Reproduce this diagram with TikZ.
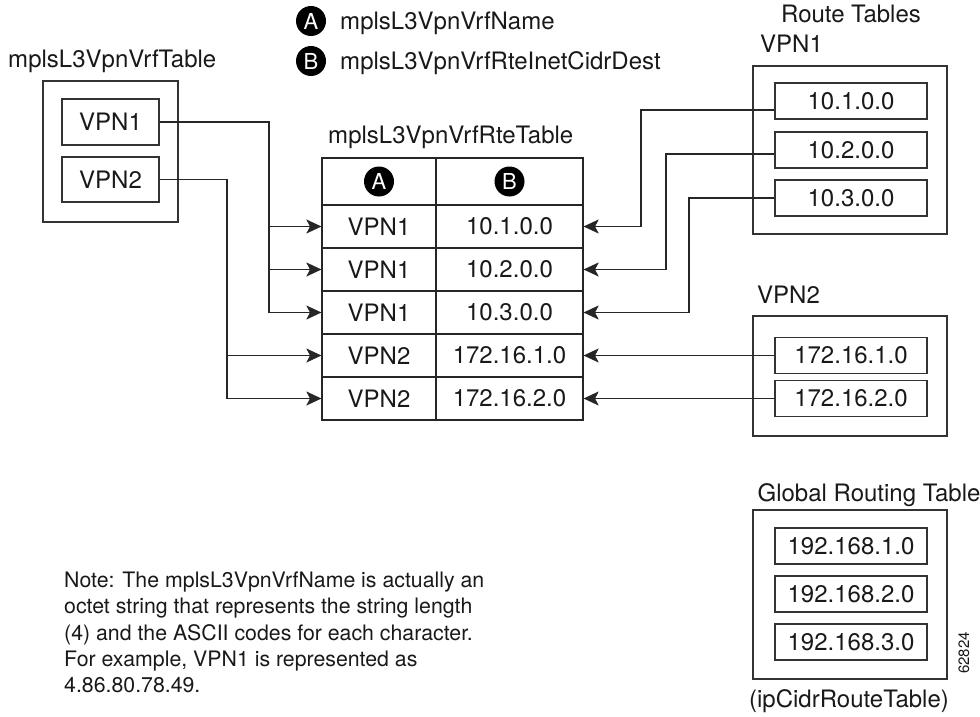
\documentclass[tikz,border=0pt]{standalone}
\usepackage{fontspec}
\setmainfont{TeX Gyre Heros}
\usetikzlibrary{arrows.meta}
\begin{document}
\begin{tikzpicture}[x=1pt,y=-1pt,
  lbl/.style={inner sep=0pt, font=\fontsize{24}{28}\selectfont, text=black!90},
  box/.style={draw=black!80, line width=1.2pt, inner sep=0pt, minimum height=36pt, font=\fontsize{24}{28}\selectfont, text=black!90},
  outer/.style={draw=black!80, line width=1.2pt, inner sep=0pt},
  cell/.style={draw=black!85, line width=1.2pt, inner sep=0pt, minimum height=43pt, font=\fontsize{24}{28}\selectfont, text=black!90},
  colA/.style={cell, minimum width=114pt},
  colB/.style={cell, minimum width=147pt},
  badge/.style={circle, fill=black, text=white, minimum size=30pt, inner sep=0pt, font=\fontsize{22}{24}\selectfont},
  conn/.style={draw=black!85, line width=1.1pt},
  arr/.style={conn, -{Stealth[length=15pt,width=14pt,inset=3.5pt]}}
]
\useasboundingbox (0,0) rectangle (980,717);

% legend
\node[badge] (la) at (311,21) {A};
\node[lbl, anchor=base west] (lat) at (340,30) {mplsL3VpnVrfName};
\node[badge] (lb) at (311,61) {B};
\node[lbl, anchor=base west] (lbt) at (340,70) {mplsL3VpnVrfRteInetCidrDest};

% left table
\node[lbl, anchor=base west] (tvrf) at (8,67) {mplsL3VpnVrfTable};
\node[outer, minimum width=135pt, minimum height=141pt] (vrft) at (110.5,151.5) {};
\node[box, minimum width=97pt, minimum height=46pt] (v1) at (110.5,122) {VPN1};
\node[box, minimum width=97pt, minimum height=45pt] (v2) at (110.5,179.5) {VPN2};

% middle table
\node[lbl, anchor=base west] (trte) at (328,143) {mplsL3VpnVrfRteTable};
\node[colA, minimum height=47pt] (hA) at (379,181.5) {};
\node[colB, minimum height=47pt] (hB) at (509.5,181.5) {};
\node[badge] (ha) at (hA.center) {A};
\node[badge] (hb) at (hB.center) {B};
\node[colA] (r1a) at (379,226.5) {VPN1};
\node[colB] (r1b) at (509.5,226.5) {10.1.0.0};
\node[colA] (r2a) at (379,269.5) {VPN1};
\node[colB] (r2b) at (509.5,269.5) {10.2.0.0};
\node[colA] (r3a) at (379,312.5) {VPN1};
\node[colB] (r3b) at (509.5,312.5) {10.3.0.0};
\node[colA] (r4a) at (379,355.5) {VPN2};
\node[colB] (r4b) at (509.5,355.5) {172.16.1.0};
\node[colA] (r5a) at (379,398.5) {VPN2};
\node[colB] (r5b) at (509.5,398.5) {172.16.2.0};

% route tables
\node[lbl, anchor=base] (trt) at (851,23) {Route Tables};
\node[lbl, anchor=base west] (tv1) at (760,53) {VPN1};
\node[outer, minimum width=194pt, minimum height=168pt] (rt1) at (850,150) {};
\node[box, minimum width=152pt] (b1) at (851,101) {10.1.0.0};
\node[box, minimum width=152pt] (b2) at (851,150) {10.2.0.0};
\node[box, minimum width=152pt] (b3) at (851,198) {10.3.0.0};

\node[lbl, anchor=base west] (tv2) at (757,303) {VPN2};
\node[outer, minimum width=194pt, minimum height=120pt] (rt2) at (850,376) {};
\node[box, minimum width=152pt] (c1) at (851,355.5) {172.16.1.0};
\node[box, minimum width=152pt] (c2) at (851,398.5) {172.16.2.0};

% global routing table
\node[lbl, anchor=base] (tg) at (869,501.7) {Global Routing Table};
\node[outer, minimum width=194pt, minimum height=169pt] (grt) at (850,594.5) {};
\node[box, minimum width=152pt] (g1) at (851,546) {192.168.1.0};
\node[box, minimum width=152pt] (g2) at (851,594) {192.168.2.0};
\node[box, minimum width=152pt] (g3) at (851,642) {192.168.3.0};
\node[lbl, anchor=base] (tip) at (849,707) {(ipCidrRouteTable)};
\node[inner sep=0pt, rotate=90, font=\fontsize{15}{17}\selectfont, text=black!90] (fig) at (964,653) {62824};

% note
\node[inner sep=0pt, anchor=north west, align=left, font=\fontsize{21.3}{26.4}\selectfont, text=black!90] (note) at (64,571.5)
{Note: The mplsL3VpnVrfName is actually an\\
octet string that represents the string length\\
(4) and the ASCII codes for each character.\\
For example, VPN1 is represented as\\
4.86.80.78.49.};

% connectors: left
\coordinate (k1) at (269,0);
\coordinate (k2) at (227,0);
\draw[arr] (v1.east) -- (v1.east -| k1) |- (r1a.west);
\draw[arr] (v1.east) -- (v1.east -| k1) |- (r2a.west);
\draw[arr] (v1.east) -- (v1.east -| k1) |- (r3a.west);
\draw[arr] (v2.east) -- (v2.east -| k2) |- (r4a.west);
\draw[arr] (v2.east) -- (v2.east -| k2) |- (r5a.west);

% connectors: right
\coordinate (m1) at (641,0);
\coordinate (m2) at (666,0);
\coordinate (m3) at (689,0);
\coordinate (s1) at ([yshift=-9pt]b1.west);
\coordinate (s2) at ([yshift=-4pt]b2.west);
\coordinate (s3) at (b3.west);
\draw[arr] (s1) -- (s1 -| m1) |- (r1b.east);
\draw[arr] (s2) -- (s2 -| m2) |- (r2b.east);
\draw[arr] (s3) -- (s3 -| m3) |- (r3b.east);
\draw[arr] (c1.west) -- (r4b.east);
\draw[arr] (c2.west) -- (r5b.east);
\end{tikzpicture}
\end{document}
